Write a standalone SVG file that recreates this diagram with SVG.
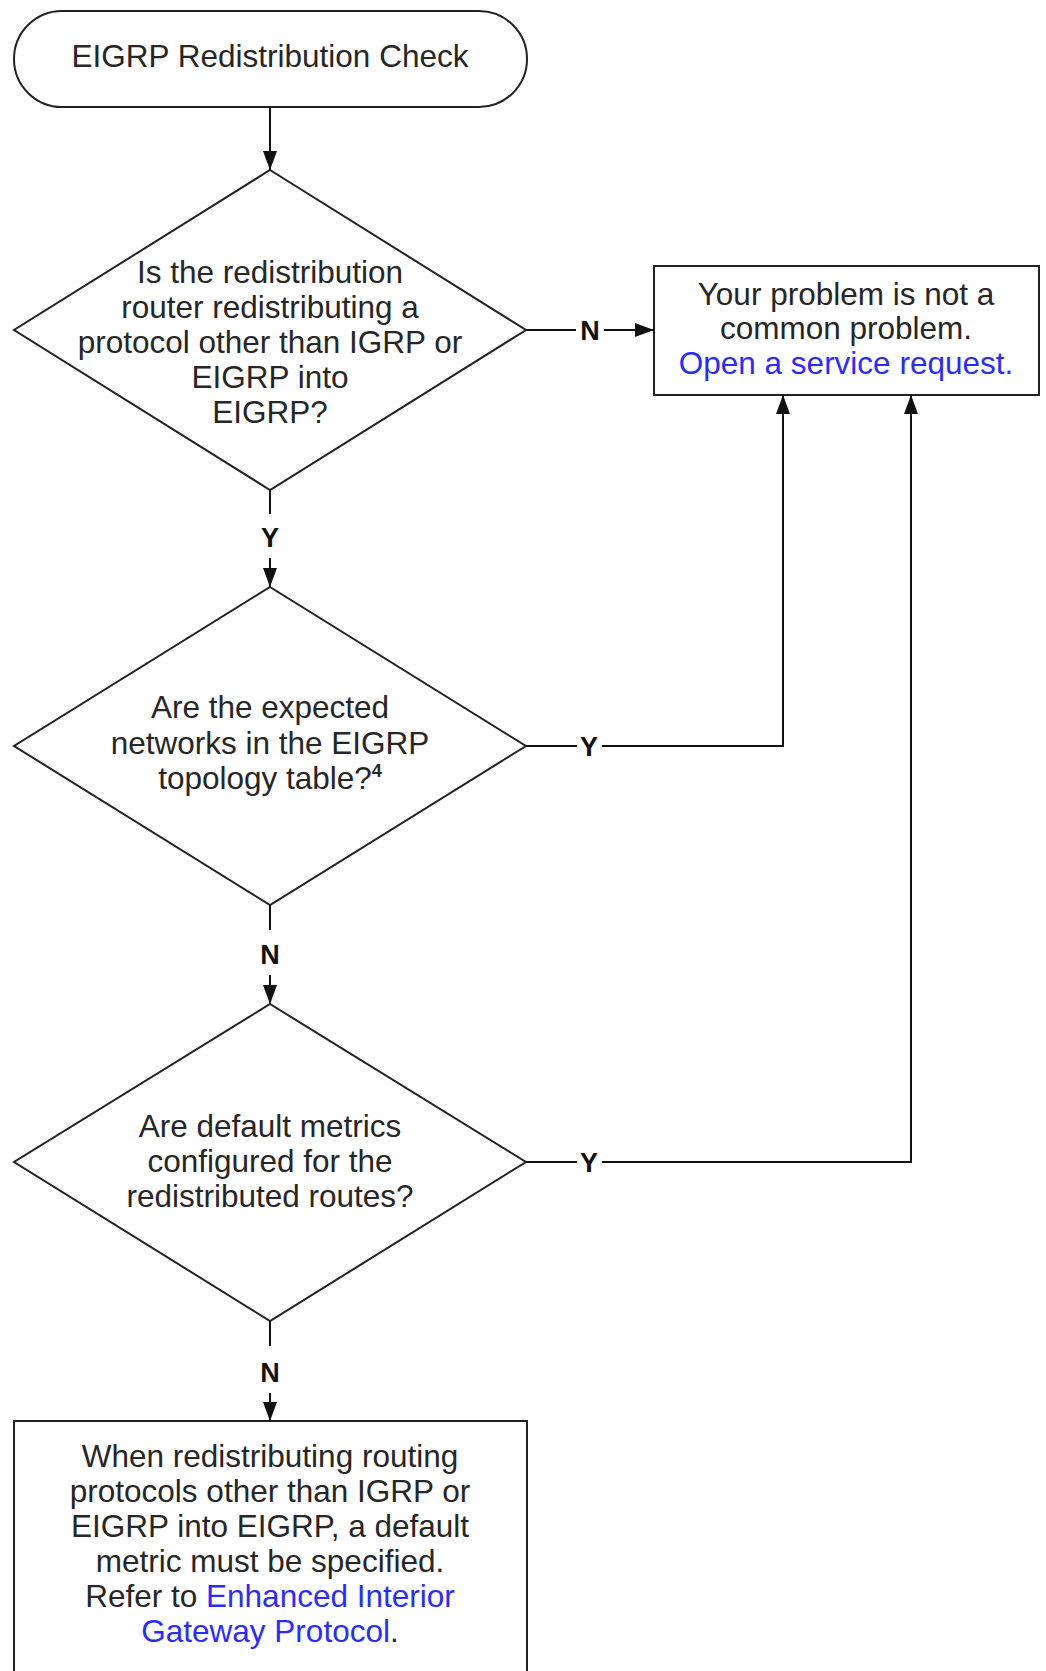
<svg xmlns="http://www.w3.org/2000/svg" width="1046" height="1671" viewBox="0 0 1046 1671">
<style>
.shape{fill:#ffffff;stroke:#222222;stroke-width:2}
.t{font-family:"Liberation Sans",Arial,sans-serif;font-size:31.5px;fill:#262626;text-anchor:middle}
.link{fill:#2b2bff}
.lbl{font-family:"Liberation Sans",Arial,sans-serif;font-size:27px;font-weight:bold;fill:#111111;text-anchor:middle}
.c{fill:none;stroke:#111111;stroke-width:2}
</style>
<defs>
<marker id="arr" markerUnits="userSpaceOnUse" markerWidth="20" markerHeight="14" refX="19" refY="7" orient="auto">
<path d="M0,0 L19,7 L0,14 Z" fill="#111111"/>
</marker>
</defs>
<rect width="1046" height="1671" fill="#ffffff"/>
<g id="start">
<rect class="shape" x="14" y="11" width="513" height="96" rx="48" ry="48"/>
<text class="t" x="270" y="67">EIGRP Redistribution Check</text>
</g>
<g id="decision1">
<polygon class="shape" points="270,170 526,330 270,490 14,330"/>
<text class="t" x="270" y="283">Is the redistribution</text>
<text class="t" x="270" y="318">router redistributing a</text>
<text class="t" x="270" y="353">protocol other than IGRP or</text>
<text class="t" x="270" y="388">EIGRP into</text>
<text class="t" x="270" y="423">EIGRP?</text>
</g>
<g id="result1">
<rect class="shape" x="654" y="266" width="385" height="129"/>
<text class="t" x="846" y="305">Your problem is not a</text>
<text class="t" x="846" y="339">common problem.</text>
<text class="t link" x="846" y="374">Open a service request.</text>
</g>
<g id="decision2">
<polygon class="shape" points="270,587 526,746 270,905 14,746"/>
<text class="t" x="270" y="718">Are the expected</text>
<text class="t" x="270" y="754">networks in the EIGRP</text>
<text class="t" x="270" y="789">topology table?<tspan font-size="18" font-weight="bold" dy="-12">4</tspan></text>
</g>
<g id="decision3">
<polygon class="shape" points="270,1004 526,1162 270,1321 14,1162"/>
<text class="t" x="270" y="1137">Are default metrics</text>
<text class="t" x="270" y="1172">configured for the</text>
<text class="t" x="270" y="1207">redistributed routes?</text>
</g>
<g id="result2">
<rect class="shape" x="14" y="1421" width="513" height="270"/>
<text class="t" x="270" y="1467">When redistributing routing</text>
<text class="t" x="270" y="1502">protocols other than IGRP or</text>
<text class="t" x="270" y="1537">EIGRP into EIGRP, a default</text>
<text class="t" x="270" y="1572">metric must be specified.</text>
<text class="t" x="270" y="1607">Refer to <tspan class="link">Enhanced Interior</tspan></text>
<text class="t" x="270" y="1642"><tspan class="link">Gateway Protocol</tspan>.</text>
</g>
<g id="connectors">
<line class="c" x1="270" y1="107" x2="270" y2="170" marker-end="url(#arr)"/>
<line class="c" x1="526" y1="330" x2="576" y2="330"/>
<line class="c" x1="604" y1="330" x2="654" y2="330" marker-end="url(#arr)"/>
<text class="lbl" x="590" y="340">N</text>
<line class="c" x1="270" y1="490" x2="270" y2="514"/>
<text class="lbl" x="270" y="547">Y</text>
<line class="c" x1="270" y1="558" x2="270" y2="587" marker-end="url(#arr)"/>
<line class="c" x1="526" y1="746" x2="577" y2="746"/>
<text class="lbl" x="589" y="756">Y</text>
<polyline class="c" points="602,746 783,746 783,395" marker-end="url(#arr)"/>
<line class="c" x1="270" y1="905" x2="270" y2="930"/>
<text class="lbl" x="270" y="964">N</text>
<line class="c" x1="270" y1="975" x2="270" y2="1004" marker-end="url(#arr)"/>
<line class="c" x1="526" y1="1162" x2="577" y2="1162"/>
<text class="lbl" x="589" y="1172">Y</text>
<polyline class="c" points="602,1162 911,1162 911,395" marker-end="url(#arr)"/>
<line class="c" x1="270" y1="1321" x2="270" y2="1346"/>
<text class="lbl" x="270" y="1382">N</text>
<line class="c" x1="270" y1="1393" x2="270" y2="1421" marker-end="url(#arr)"/>
</g>
</svg>
